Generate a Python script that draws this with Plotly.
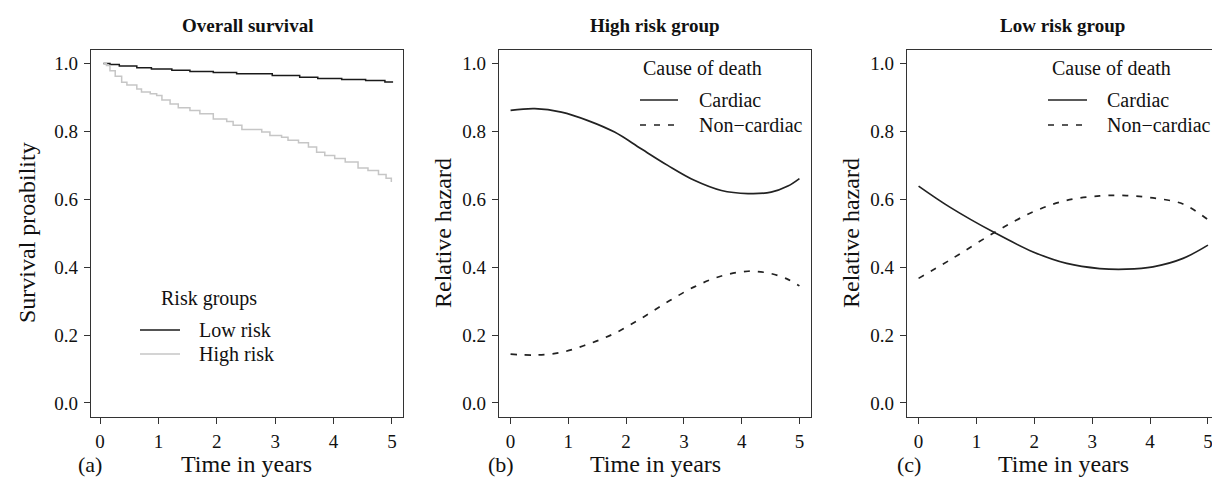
import plotly.graph_objects as go

W, H = 1212, 477
FONT = "Liberation Serif, Times New Roman, serif"
INK = "#111111"

# Kaplan-Meier survival by risk group (time in years, survival probability)
low_t = [0.057, 0.17, 0.33, 0.63, 0.88, 1.23, 1.54, 1.94, 2.34, 2.95, 3.42, 3.73, 4.14, 4.55, 4.88, 5.02]
low_s = [1.000, 0.997, 0.993, 0.988, 0.984, 0.980, 0.977, 0.974, 0.970, 0.965, 0.960, 0.956, 0.953, 0.950, 0.946, 0.946]

high_t = [0.057, 0.11, 0.17, 0.26, 0.37, 0.46, 0.63, 0.71, 0.86, 0.97, 1.06, 1.20, 1.34, 1.54, 1.71,
          1.94, 2.17, 2.28, 2.43, 2.77, 2.91, 3.11, 3.22, 3.40, 3.57, 3.71, 3.85, 4.02, 4.20, 4.42,
          4.59, 4.77, 4.90, 4.99]
high_s = [1.000, 0.994, 0.979, 0.963, 0.945, 0.937, 0.925, 0.916, 0.911, 0.906, 0.893, 0.881, 0.870, 0.862, 0.852,
          0.837, 0.829, 0.818, 0.806, 0.798, 0.788, 0.783, 0.774, 0.767, 0.754, 0.739, 0.729, 0.720, 0.710, 0.692,
          0.685, 0.673, 0.662, 0.651]

# Relative hazard by cause of death, high risk group
hi_t = [0, 0.42, 0.88, 1.34, 1.80, 2.26, 2.72, 3.18, 3.65, 4.11, 4.51, 4.80, 5.0]
hi_cardiac = [0.862, 0.867, 0.857, 0.832, 0.798, 0.749, 0.700, 0.656, 0.626, 0.617, 0.621, 0.639, 0.661]
hi_noncardiac = [0.144, 0.141, 0.149, 0.173, 0.205, 0.249, 0.298, 0.342, 0.374, 0.388, 0.381, 0.364, 0.345]

# Relative hazard by cause of death, low risk group
lo_t = [0, 0.54, 1.31, 1.98, 2.56, 3.13, 3.59, 4.05, 4.57, 5.0]
lo_cardiac = [0.639, 0.577, 0.502, 0.445, 0.411, 0.396, 0.394, 0.401, 0.426, 0.465]
lo_noncardiac = [0.367, 0.421, 0.502, 0.563, 0.597, 0.610, 0.611, 0.604, 0.586, 0.540]

x_ticks = [0, 1, 2, 3, 4, 5]
y_ticks = [0.0, 0.2, 0.4, 0.6, 0.8, 1.0]
y_tick_text = ["0.0", "0.2", "0.4", "0.6", "0.8", "1.0"]

DASH = "6px,8px"


def px(x):
    return x / W


def py(y):
    return 1 - y / H


fig = go.Figure()

# Panel (a): survival curves
fig.add_trace(go.Scatter(x=low_t, y=low_s, mode="lines", line=dict(color="#1a1a1a", width=1.5, shape="hv"),
                         xaxis="x", yaxis="y", showlegend=False))
fig.add_trace(go.Scatter(x=high_t, y=high_s, mode="lines", line=dict(color="#c6c6c6", width=1.5, shape="hv"),
                         xaxis="x", yaxis="y", showlegend=False))

# Panel (b)
fig.add_trace(go.Scatter(x=hi_t, y=hi_cardiac, mode="lines", line=dict(color="#222", width=1.7, shape="spline"),
                         xaxis="x2", yaxis="y2", showlegend=False))
fig.add_trace(go.Scatter(x=hi_t, y=hi_noncardiac, mode="lines",
                         line=dict(color="#222", width=1.7, shape="spline", dash=DASH),
                         xaxis="x2", yaxis="y2", showlegend=False))

# Panel (c)
fig.add_trace(go.Scatter(x=lo_t, y=lo_cardiac, mode="lines", line=dict(color="#222", width=1.7, shape="spline"),
                         xaxis="x3", yaxis="y3", showlegend=False))
fig.add_trace(go.Scatter(x=lo_t, y=lo_noncardiac, mode="lines",
                         line=dict(color="#222", width=1.7, shape="spline", dash=DASH),
                         xaxis="x3", yaxis="y3", showlegend=False))

y_dom = [py(416.5), py(50)]
tickfont = dict(family=FONT, size=19, color=INK)


def xaxis(dom, rng, anchor, mirror=True):
    return dict(domain=dom, range=rng, anchor=anchor, tickmode="array", tickvals=x_ticks,
                ticktext=[str(v) for v in x_ticks], ticks="outside", ticklen=6, tickwidth=1.2,
                tickcolor="#333", showline=True, linecolor="#333", linewidth=1.3, mirror=mirror,
                showgrid=False, zeroline=False, tickfont=tickfont, ticklabelstandoff=2,
                ticklabeloverflow="allow", fixedrange=True)


def yaxis(anchor, mirror=True):
    return dict(domain=y_dom, range=[-0.04, 1.04], anchor=anchor, tickmode="array", tickvals=y_ticks,
                ticktext=y_tick_text, ticks="outside", ticklen=6, tickwidth=1.2, tickcolor="#333",
                showline=True, linecolor="#333", linewidth=1.3, mirror=mirror, showgrid=False,
                zeroline=False, tickfont=tickfont, ticklabelstandoff=2, fixedrange=True)


annotations = []


def text(s, x, y, size, xanchor="center", bold=False, angle=0):
    annotations.append(dict(text=f"<b>{s}</b>" if bold else s, x=px(x), y=py(y), xref="paper", yref="paper",
                            xanchor=xanchor, yanchor="middle", showarrow=False, textangle=angle,
                            font=dict(family=FONT, size=size, color=INK)))


shapes = []


def key(x0, x1, y, color, dash=None):
    shapes.append(dict(type="line", xref="paper", yref="paper", x0=px(x0), x1=px(x1), y0=py(y), y1=py(y),
                       line=dict(color=color, width=1.5, dash=dash)))


# Titles
text("Overall survival", 247, 25, 19, bold=True)
text("High risk group", 655, 25, 19, bold=True)
text("Low risk group", 1062, 25, 19, bold=True)

# Axis titles and panel labels
for cx in [246, 655, 1063]:
    text("Time in years", cx, 464, 24)
for lx, lab in [(90, "(a)"), (501, "(b)"), (909, "(c)")]:
    text(lab, lx, 464, 22)
text("Survival proability", 27, 233, 24, angle=-90)
text("Relative hazard", 443, 233, 24, angle=-90)
text("Relative hazard", 851, 233, 24, angle=-90)

# Legend for panel (a)
text("Risk groups", 209, 298, 20)
key(140, 180, 330, "#1a1a1a")
key(140, 180, 354, "#c6c6c6")
text("Low risk", 197, 330, 20, xanchor="left")
text("High risk", 197, 354, 20, xanchor="left")

# Legends for panels (b) and (c)
for cx, k0, k1, tx in [(702.5, 640, 678, 697), (1111, 1048, 1087, 1105)]:
    text("Cause of death", cx, 68, 20)
    key(k0, k1, 100, "#222")
    key(k0, k1, 125, "#222", dash=DASH)
    text("Cardiac", tx, 100, 20, xanchor="left")
    text("Non\u2212cardiac", tx, 125, 20, xanchor="left")

fig.update_layout(
    width=W, height=H,
    margin=dict(l=0, r=0, t=0, b=0),
    paper_bgcolor="white", plot_bgcolor="white",
    xaxis=xaxis([px(91), px(403)], [-0.155, 5.19], "y"),
    yaxis=yaxis("x"),
    xaxis2=xaxis([px(499), px(811)], [-0.2, 5.2], "y2"),
    yaxis2=yaxis("x2"),
    xaxis3=xaxis([px(907), 1.0], [-0.2, 5.07], "y3"),
    yaxis3=yaxis("x3", mirror=False),
    annotations=annotations,
    shapes=shapes,
    showlegend=False,
)

fig.write_html("out.html", config={"displayModeBar": False})
